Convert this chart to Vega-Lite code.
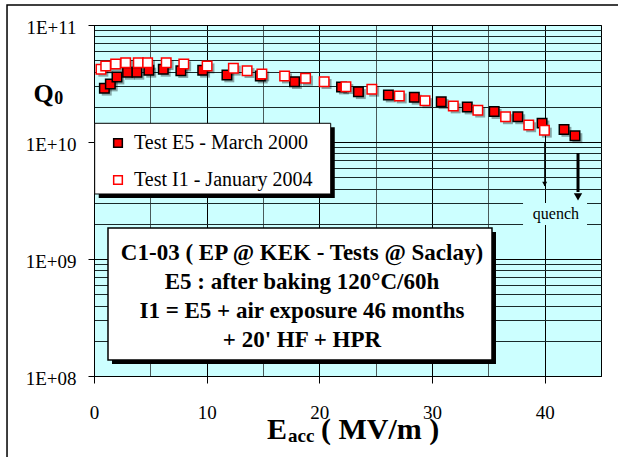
{
  "$schema": "https://vega.github.io/schema/vega-lite/v6.json",
  "width": 507,
  "height": 351,
  "autosize": {"type": "none"},
  "padding": {"left": 94, "top": 25, "right": 17, "bottom": 81},
  "background": "white",
  "config": {
    "view": {"fill": "#CCFFFF", "stroke": "#000000", "strokeWidth": 1},
    "font": "Liberation Serif"
  },
  "datasets": {
    "q": [
      {"series": "Test E5 - March 2000", "E": 0.92, "Q": 2.88e10},
      {"series": "Test E5 - March 2000", "E": 1.45, "Q": 3.13e10},
      {"series": "Test E5 - March 2000", "E": 2.04, "Q": 3.59e10},
      {"series": "Test E5 - March 2000", "E": 2.98, "Q": 3.94e10},
      {"series": "Test E5 - March 2000", "E": 3.81, "Q": 3.94e10},
      {"series": "Test E5 - March 2000", "E": 4.87, "Q": 4.10e10},
      {"series": "Test E5 - March 2000", "E": 6.15, "Q": 4.18e10},
      {"series": "Test E5 - March 2000", "E": 7.71, "Q": 4.07e10},
      {"series": "Test E5 - March 2000", "E": 9.65, "Q": 4.10e10},
      {"series": "Test E5 - March 2000", "E": 11.8, "Q": 3.74e10},
      {"series": "Test E5 - March 2000", "E": 14.76, "Q": 3.66e10},
      {"series": "Test E5 - March 2000", "E": 17.8, "Q": 3.28e10},
      {"series": "Test E5 - March 2000", "E": 21.97, "Q": 2.95e10},
      {"series": "Test E5 - March 2000", "E": 23.47, "Q": 2.69e10},
      {"series": "Test E5 - March 2000", "E": 26.13, "Q": 2.52e10},
      {"series": "Test E5 - March 2000", "E": 28.43, "Q": 2.41e10},
      {"series": "Test E5 - March 2000", "E": 30.82, "Q": 2.21e10},
      {"series": "Test E5 - March 2000", "E": 33.13, "Q": 1.99e10},
      {"series": "Test E5 - March 2000", "E": 35.52, "Q": 1.82e10},
      {"series": "Test E5 - March 2000", "E": 37.62, "Q": 1.64e10},
      {"series": "Test E5 - March 2000", "E": 39.77, "Q": 1.45e10},
      {"series": "Test E5 - March 2000", "E": 41.72, "Q": 1.28e10},
      {"series": "Test E5 - March 2000", "E": 42.69, "Q": 1.13e10},
      {"series": "Test I1 - January 2004", "E": 0.62, "Q": 4.18e10},
      {"series": "Test I1 - January 2004", "E": 1.04, "Q": 4.46e10},
      {"series": "Test I1 - January 2004", "E": 1.92, "Q": 4.64e10},
      {"series": "Test I1 - January 2004", "E": 2.81, "Q": 4.76e10},
      {"series": "Test I1 - January 2004", "E": 3.93, "Q": 4.76e10},
      {"series": "Test I1 - January 2004", "E": 4.76, "Q": 4.76e10},
      {"series": "Test I1 - January 2004", "E": 6.41, "Q": 4.76e10},
      {"series": "Test I1 - January 2004", "E": 7.97, "Q": 4.64e10},
      {"series": "Test I1 - January 2004", "E": 10.04, "Q": 4.46e10},
      {"series": "Test I1 - January 2004", "E": 12.37, "Q": 4.27e10},
      {"series": "Test I1 - January 2004", "E": 13.59, "Q": 4.07e10},
      {"series": "Test I1 - January 2004", "E": 14.9, "Q": 3.81e10},
      {"series": "Test I1 - January 2004", "E": 16.92, "Q": 3.66e10},
      {"series": "Test I1 - January 2004", "E": 18.78, "Q": 3.50e10},
      {"series": "Test I1 - January 2004", "E": 20.43, "Q": 3.28e10},
      {"series": "Test I1 - January 2004", "E": 22.36, "Q": 2.97e10},
      {"series": "Test I1 - January 2004", "E": 24.66, "Q": 2.82e10},
      {"series": "Test I1 - January 2004", "E": 27.1, "Q": 2.47e10},
      {"series": "Test I1 - January 2004", "E": 29.38, "Q": 2.25e10},
      {"series": "Test I1 - January 2004", "E": 31.89, "Q": 2.03e10},
      {"series": "Test I1 - January 2004", "E": 34.07, "Q": 1.87e10},
      {"series": "Test I1 - January 2004", "E": 36.53, "Q": 1.64e10},
      {"series": "Test I1 - January 2004", "E": 38.59, "Q": 1.40e10},
      {"series": "Test I1 - January 2004", "E": 39.98, "Q": 1.26e10}
    ]
  },
  "layer": [
    {
      "data": {"values": [{}]},
      "mark": {"type": "rect", "fill": "transparent", "stroke": "#000000", "strokeWidth": 1.5},
      "encoding": {
        "x": {"datum": -7.72, "type": "quantitative", "scale": {"domain": [0, 45], "nice": false}},
        "x2": {"datum": 60},
        "y": {"datum": 1.483e11, "type": "quantitative", "scale": {"type": "log", "domain": [1e8, 1e11], "nice": false}},
        "y2": {"datum": 5e6}
      }
    },
    {
      "data": {"name": "q"},
      "mark": {"type": "point", "shape": "M-0.55,-0.55L1.55,-0.55L1.55,1.55L-0.55,1.55Z", "size": 90, "filled": true, "fill": "#000000", "strokeWidth": 0, "opacity": 0.35},
      "encoding": {
        "x": {"field": "E", "type": "quantitative", "scale": {"domain": [0, 45], "nice": false}},
        "y": {"field": "Q", "type": "quantitative", "scale": {"type": "log", "domain": [1e8, 1e11], "nice": false}}
      }
    },
    {
      "data": {"name": "q"},
      "mark": {"type": "point", "shape": "square", "size": 90, "strokeWidth": 1.5, "opacity": 1, "filled": true},
      "encoding": {
        "x": {
          "field": "E", "type": "quantitative",
          "scale": {"domain": [0, 45], "nice": false},
          "axis": {
            "values": [0, 5, 10, 15, 20, 25, 30, 35, 40],
            "title": null,
            "grid": true,
            "gridColor": {"condition": {"test": "datum.value % 10 === 0", "value": "#000000"}, "value": "#4a5a5a"},
            "gridWidth": 1,
            "tickOpacity": {"condition": {"test": "datum.value % 10 === 0", "value": 1}, "value": 0},
            "tickSize": 7,
            "tickColor": "#000000",
            "domainColor": "#000000",
            "labelExpr": "datum.value % 10 === 0 ? datum.label : ''",
            "labelFont": "Liberation Serif",
            "labelFontSize": 19,
            "labelColor": "#000000",
            "labelPadding": 20,
            "labelFlush": false,
            "labelOverlap": false,
            "labelBound": false
          }
        },
        "y": {
          "field": "Q", "type": "quantitative",
          "scale": {"type": "log", "domain": [1e8, 1e11], "nice": false},
          "axis": {
            "values": [1e8, 2e8, 3e8, 4e8, 5e8, 6e8, 7e8, 8e8, 9e8, 1e9, 2e9, 3e9, 4e9, 5e9, 6e9, 7e9, 8e9, 9e9, 1e10, 2e10, 3e10, 4e10, 5e10, 6e10, 7e10, 8e10, 9e10, 1e11],
            "title": "Q",
            "titleAngle": 0,
            "titleFont": "Liberation Serif",
            "titleFontSize": 26,
            "titleFontWeight": "bold",
            "titleColor": "#000000",
            "titleAlign": "left",
            "titleBaseline": "alphabetic",
            "titleX": -61,
            "titleY": 76,
            "grid": true,
            "gridColor": {"condition": {"test": "datum.value == 1e8 || datum.value == 1e9 || datum.value == 1e10 || datum.value == 1e11", "value": "#000000"}, "value": "#1a2a2a"},
            "gridWidth": 1,
            "tickOpacity": {"condition": {"test": "datum.value == 1e8 || datum.value == 1e9 || datum.value == 1e10 || datum.value == 1e11", "value": 1}, "value": 0},
            "tickSize": 6,
            "tickColor": "#000000",
            "domainColor": "#000000",
            "labelExpr": "datum.value == 1e8 ? '1E+08' : datum.value == 1e9 ? '1E+09' : datum.value == 1e10 ? '1E+10' : datum.value == 1e11 ? '1E+11' : ''",
            "labelFont": "Liberation Serif",
            "labelFontSize": 19,
            "labelColor": "#000000",
            "labelPadding": 12,
            "labelOffset": 2,
            "labelFlush": false,
            "labelOverlap": false,
            "labelBound": false
          }
        },
        "fill": {
          "field": "series", "type": "nominal",
          "scale": {"domain": ["Test E5 - March 2000", "Test I1 - January 2004"], "range": ["#FF0000", "#FFFFFF"]},
          "legend": {"orient": "none", "legendX": 14, "legendY": 108, "title": null, "labelFont": "Liberation Serif", "labelFontSize": 20, "labelColor": "#000000", "rowPadding": 17, "labelOffset": 6, "padding": 0, "symbolSize": 75, "symbolStrokeWidth": 1.5, "labelLimit": 400}
        },
        "stroke": {
          "field": "series", "type": "nominal",
          "scale": {"domain": ["Test E5 - March 2000", "Test I1 - January 2004"], "range": ["#000000", "#FF0000"]},
          "legend": {"orient": "none", "legendX": 14, "legendY": 108, "title": null, "labelFont": "Liberation Serif", "labelFontSize": 20, "labelColor": "#000000", "rowPadding": 17, "labelOffset": 6, "padding": 0, "symbolSize": 75, "symbolStrokeWidth": 1.5, "labelLimit": 400}
        }
      }
    },
    {
      "data": {"values": [{}]},
      "mark": {"type": "text", "text": "0", "font": "Liberation Serif", "fontSize": 18, "fontWeight": "bold", "align": "left", "baseline": "alphabetic", "color": "#000000"},
      "encoding": {
        "x": {"datum": -3.52, "type": "quantitative", "scale": {"domain": [0, 45], "nice": false}},
        "y": {"datum": 2.113e10, "type": "quantitative", "scale": {"type": "log", "domain": [1e8, 1e11], "nice": false}}
      }
    },
    {
      "data": {"values": [{}]},
      "mark": {"type": "rect", "fill": "#000000"},
      "encoding": {
        "x": {"datum": 0.42, "type": "quantitative", "scale": {"domain": [0, 45], "nice": false}},
        "x2": {"datum": 21.37},
        "y": {"datum": 1.336e10, "type": "quantitative", "scale": {"type": "log", "domain": [1e8, 1e11], "nice": false}},
        "y2": {"datum": 3.322e9}
      }
    },
    {
      "data": {"values": [{}]},
      "mark": {"type": "rect", "fill": "#FFFFFF", "stroke": "#000000", "strokeWidth": 1},
      "encoding": {
        "x": {"datum": 0.06, "type": "quantitative", "scale": {"domain": [0, 45], "nice": false}},
        "x2": {"datum": 21.01},
        "y": {"datum": 1.445e10, "type": "quantitative", "scale": {"type": "log", "domain": [1e8, 1e11], "nice": false}},
        "y2": {"datum": 3.594e9}
      }
    },
    {
      "data": {"values": [{}]},
      "mark": {"type": "rect", "fill": "#000000"},
      "encoding": {
        "x": {"datum": 1.598, "type": "quantitative", "scale": {"domain": [0, 45], "nice": false}},
        "x2": {"datum": 35.68},
        "y": {"datum": 1.701e9, "type": "quantitative", "scale": {"type": "log", "domain": [1e8, 1e11], "nice": false}},
        "y2": {"datum": 1.267e8}
      }
    },
    {
      "data": {"values": [{}]},
      "mark": {"type": "rect", "fill": "#FFFFFF", "stroke": "#000000", "strokeWidth": 1.5},
      "encoding": {
        "x": {"datum": 1.2426, "type": "quantitative", "scale": {"domain": [0, 45], "nice": false}},
        "x2": {"datum": 35.325},
        "y": {"datum": 1.841e9, "type": "quantitative", "scale": {"type": "log", "domain": [1e8, 1e11], "nice": false}},
        "y2": {"datum": 1.37e8}
      }
    },
    {
      "data": {"values": [{}]},
      "mark": {"type": "text", "text": ["C1-03 ( EP @ KEK - Tests @ Saclay)", "E5 : after baking 120°C/60h", "I1 = E5 + air exposure 46 months", "+ 20' HF + HPR"], "font": "Liberation Serif", "fontSize": 23, "fontWeight": "bold", "lineHeight": 29, "align": "center", "baseline": "middle", "color": "#000000"},
      "encoding": {
        "x": {"datum": 18.46, "type": "quantitative", "scale": {"domain": [0, 45], "nice": false}},
        "y": {"datum": 1.125e9, "type": "quantitative", "scale": {"type": "log", "domain": [1e8, 1e11], "nice": false}}
      }
    },
    {
      "data": {"values": [{}]},
      "mark": {"type": "rect", "fill": "#CCFFFF"},
      "encoding": {
        "x": {"datum": 38.08, "type": "quantitative", "scale": {"domain": [0, 45], "nice": false}},
        "x2": {"datum": 43.76},
        "y": {"datum": 3.009e9, "type": "quantitative", "scale": {"type": "log", "domain": [1e8, 1e11], "nice": false}},
        "y2": {"datum": 1.953e9}
      }
    },
    {
      "data": {"values": [{}]},
      "mark": {"type": "text", "text": "quench", "font": "Liberation Serif", "fontSize": 16, "align": "center", "baseline": "middle", "color": "#000000"},
      "encoding": {
        "x": {"datum": 41.0, "type": "quantitative", "scale": {"domain": [0, 45], "nice": false}},
        "y": {"datum": 2.424e9, "type": "quantitative", "scale": {"type": "log", "domain": [1e8, 1e11], "nice": false}}
      }
    },
    {
      "data": {"values": [{}]},
      "mark": {"type": "rule", "strokeWidth": 1, "color": "#000000"},
      "encoding": {
        "x": {"datum": 40, "type": "quantitative", "scale": {"domain": [0, 45], "nice": false}},
        "y": {"datum": 9.8e9, "type": "quantitative", "scale": {"type": "log", "domain": [1e8, 1e11], "nice": false}},
        "y2": {"datum": 4.206e9}
      }
    },
    {
      "data": {"values": [{}]},
      "mark": {"type": "point", "shape": "triangle-down", "size": 25, "filled": true, "color": "#000000", "opacity": 1},
      "encoding": {
        "x": {"datum": 40, "type": "quantitative", "scale": {"domain": [0, 45], "nice": false}},
        "y": {"datum": 4.375e9, "type": "quantitative", "scale": {"type": "log", "domain": [1e8, 1e11], "nice": false}}
      }
    },
    {
      "data": {"values": [{}]},
      "mark": {"type": "rule", "strokeWidth": 3, "color": "#000000"},
      "encoding": {
        "x": {"datum": 42.96, "type": "quantitative", "scale": {"domain": [0, 45], "nice": false}},
        "y": {"datum": 8.054e9, "type": "quantitative", "scale": {"type": "log", "domain": [1e8, 1e11], "nice": false}},
        "y2": {"datum": 3.737e9}
      }
    },
    {
      "data": {"values": [{}]},
      "mark": {"type": "point", "shape": "triangle-down", "size": 70, "filled": true, "color": "#000000", "opacity": 1},
      "encoding": {
        "x": {"datum": 42.96, "type": "quantitative", "scale": {"domain": [0, 45], "nice": false}},
        "y": {"datum": 3.388e9, "type": "quantitative", "scale": {"type": "log", "domain": [1e8, 1e11], "nice": false}}
      }
    },
    {
      "data": {"values": [{}]},
      "mark": {"type": "text", "text": "E", "font": "Liberation Serif", "fontSize": 30, "fontWeight": "bold", "align": "left", "baseline": "alphabetic", "color": "#000000"},
      "encoding": {
        "x": {"datum": 15.355, "type": "quantitative", "scale": {"domain": [0, 45], "nice": false}},
        "y": {"datum": 2.894e7, "type": "quantitative", "scale": {"type": "log", "domain": [1e8, 1e11], "nice": false}}
      }
    },
    {
      "data": {"values": [{}]},
      "mark": {"type": "text", "text": "acc", "font": "Liberation Serif", "fontSize": 19, "fontWeight": "bold", "align": "left", "baseline": "alphabetic", "color": "#000000"},
      "encoding": {
        "x": {"datum": 17.22, "type": "quantitative", "scale": {"domain": [0, 45], "nice": false}},
        "y": {"datum": 2.729e7, "type": "quantitative", "scale": {"type": "log", "domain": [1e8, 1e11], "nice": false}}
      }
    },
    {
      "data": {"values": [{}]},
      "mark": {"type": "text", "text": "( MV/m )", "font": "Liberation Serif", "fontSize": 30, "fontWeight": "bold", "align": "left", "baseline": "alphabetic", "color": "#000000"},
      "encoding": {
        "x": {"datum": 20.15, "type": "quantitative", "scale": {"domain": [0, 45], "nice": false}},
        "y": {"datum": 2.894e7, "type": "quantitative", "scale": {"type": "log", "domain": [1e8, 1e11], "nice": false}}
      }
    }
  ]
}
